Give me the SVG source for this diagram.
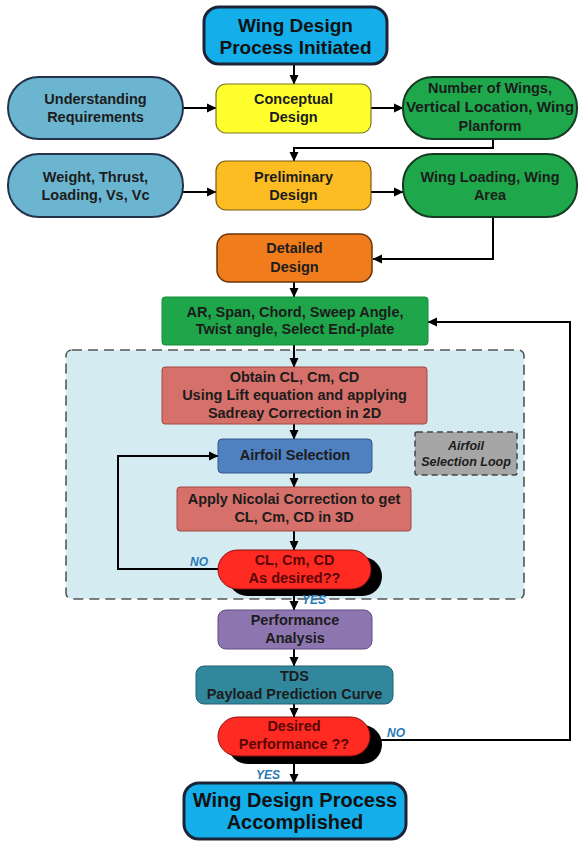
<svg xmlns="http://www.w3.org/2000/svg" width="579" height="842" viewBox="0 0 579 842">
<defs>
<marker id="ah" markerWidth="10" markerHeight="10" refX="9" refY="5" orient="auto" markerUnits="userSpaceOnUse"><path d="M0,0.5 L9.5,5 L0,9.5 z" fill="#000"/></marker>
<style>
text{font-family:"Liberation Sans",Arial,sans-serif;font-weight:bold;text-anchor:middle;fill:#1c1c1c;}
.t{font-size:14.5px;}
.big{font-size:19px;fill:#111;}
.red{fill:#5a0606;}
.lbl{font-size:12px;font-style:italic;fill:#2a78b5;text-anchor:start;}
.c{fill:none;stroke:#000;stroke-width:2;}
.ca{fill:none;stroke:#000;stroke-width:2;marker-end:url(#ah);}
</style>
</defs>
<rect width="579" height="842" fill="#fff"/>

<g id="region">
<rect x="66" y="350" width="458" height="249" rx="6" fill="#d5ebf2" stroke="#555" stroke-width="1.6" stroke-dasharray="10,6"/>
</g>

<g id="connectors">
<line class="ca" x1="294" y1="64" x2="294" y2="84"/>
<line class="ca" x1="183" y1="108" x2="216" y2="108"/>
<line class="ca" x1="371" y1="108" x2="403" y2="108"/>
<polyline class="ca" points="493,139 493,148 294,148 294,161"/>
<line class="ca" x1="183" y1="192" x2="216" y2="192"/>
<line class="ca" x1="371" y1="192" x2="403" y2="192"/>
<polyline class="ca" points="493,217 493,259 373,259"/>
<line class="ca" x1="294" y1="282" x2="294" y2="297"/>
<line class="ca" x1="294" y1="345" x2="294" y2="367"/>
<line class="ca" x1="294" y1="424" x2="294" y2="439"/>
<line class="ca" x1="294" y1="473" x2="294" y2="487"/>
<line class="ca" x1="294" y1="531" x2="294" y2="550"/>
<polyline class="ca" points="218,569 118,569 118,456 218,456"/>
<line class="ca" x1="294" y1="596" x2="294" y2="610"/>
<line class="ca" x1="294" y1="649" x2="294" y2="666"/>
<line class="ca" x1="294" y1="704" x2="294" y2="717"/>
<polyline class="ca" points="380,740 570,740 570,322 428,322"/>
<line class="ca" x1="294" y1="764" x2="294" y2="783"/>
</g>

<g id="n-start">
<rect x="204" y="7" width="183" height="57" rx="15" fill="#14aeea" stroke="#1b2436" stroke-width="3"/>
<text class="big" x="295.5" y="32">Wing Design</text>
<text class="big" x="295.5" y="54">Process Initiated</text>
</g>

<g id="n-understanding">
<rect x="8" y="77" width="175" height="62" rx="31" fill="#6bb5d0" stroke="#23324a" stroke-width="2"/>
<text class="t" x="95.5" y="104">Understanding</text>
<text class="t" x="95.5" y="122">Requirements</text>
</g>

<g id="n-conceptual">
<rect x="216" y="84" width="155" height="49" rx="10" fill="#ffff2e" stroke="#7a7a20" stroke-width="1.2"/>
<text class="t" x="293.5" y="104">Conceptual</text>
<text class="t" x="293.5" y="122">Design</text>
</g>

<g id="n-wings">
<rect x="403" y="77" width="174" height="62" rx="30" fill="#1ea84b" stroke="#163a22" stroke-width="2"/>
<text class="t" x="490" y="93">Number of Wings,</text>
<text class="t" x="490" y="112" textLength="168" lengthAdjust="spacingAndGlyphs">Vertical Location, Wing</text>
<text class="t" x="490" y="131">Planform</text>
</g>

<g id="n-weight">
<rect x="8" y="154" width="175" height="63" rx="31" fill="#6bb5d0" stroke="#23324a" stroke-width="2"/>
<text class="t" x="95.5" y="182">Weight, Thrust,</text>
<text class="t" x="95.5" y="200">Loading, Vs, Vc</text>
</g>

<g id="n-preliminary">
<rect x="216" y="161" width="155" height="49" rx="10" fill="#fbbd22" stroke="#7a5a10" stroke-width="1.2"/>
<text class="t" x="293.5" y="182">Preliminary</text>
<text class="t" x="293.5" y="200">Design</text>
</g>

<g id="n-wingloading">
<rect x="403" y="154" width="174" height="63" rx="30" fill="#1ea84b" stroke="#163a22" stroke-width="2"/>
<text class="t" x="490" y="182">Wing Loading, Wing</text>
<text class="t" x="490" y="200">Area</text>
</g>

<g id="n-detailed">
<rect x="217" y="234" width="155" height="48" rx="12" fill="#f07c1c" stroke="#6a3408" stroke-width="1.5"/>
<text class="t" x="294.5" y="253">Detailed</text>
<text class="t" x="294.5" y="272">Design</text>
</g>

<g id="n-params">
<rect x="162" y="297" width="266" height="48" rx="3" fill="#1fa64a" stroke="#178a3a" stroke-width="1"/>
<text class="t" x="295" y="317">AR, Span, Chord, Sweep Angle,</text>
<text class="t" x="295" y="334">Twist angle, Select End-plate</text>
</g>

<g id="n-obtain">
<rect x="162" y="367" width="265" height="57" rx="3" fill="#d6706a" stroke="#a04a45" stroke-width="1"/>
<text class="t" x="294.5" y="382">Obtain CL, Cm, CD</text>
<text class="t" x="294.5" y="400">Using Lift equation and applying</text>
<text class="t" x="294.5" y="418">Sadreay Correction in 2D</text>
</g>

<g id="n-airfoil">
<rect x="218" y="439" width="154" height="34" rx="4" fill="#4f80bf" stroke="#35598a" stroke-width="1"/>
<text class="t" x="295" y="460">Airfoil Selection</text>
</g>

<g id="n-looplabel">
<rect x="415" y="432" width="102" height="43" rx="2" fill="#a6a6a6" stroke="#444" stroke-width="1.5" stroke-dasharray="6,4"/>
<text x="466" y="450" style="font-size:12.5px;font-style:italic">Airfoil</text>
<text x="466" y="466" style="font-size:12.5px;font-style:italic">Selection Loop</text>
</g>

<g id="n-nicolai">
<rect x="177" y="487" width="234" height="44" rx="3" fill="#d6706a" stroke="#a04a45" stroke-width="1"/>
<text class="t" x="294" y="504">Apply Nicolai Correction to get</text>
<text class="t" x="294" y="522">CL, Cm, CD in 3D</text>
</g>

<g id="n-cldecision">
<rect x="228" y="557" width="154" height="39" rx="19.5" fill="#000"/>
<rect x="218" y="550" width="153" height="39" rx="19.5" fill="#ff2a22" stroke="#8a1010" stroke-width="1"/>
<text class="t red" x="294.5" y="565">CL, Cm, CD</text>
<text class="t red" x="294.5" y="583">As desired??</text>
</g>

<g id="n-performance">
<rect x="218" y="610" width="154" height="39" rx="8" fill="#8d76b0" stroke="#5e4a80" stroke-width="1"/>
<text class="t" x="295" y="625">Performance</text>
<text class="t" x="295" y="643">Analysis</text>
</g>

<g id="n-tds">
<rect x="196" y="666" width="197" height="38" rx="8" fill="#31879c" stroke="#23606e" stroke-width="1"/>
<text class="t" x="294.5" y="681">TDS</text>
<text class="t" x="294.5" y="699">Payload Prediction Curve</text>
</g>

<g id="n-perfdecision">
<rect x="228" y="725" width="154" height="39" rx="19.5" fill="#000"/>
<rect x="218" y="717" width="152" height="39" rx="19.5" fill="#ff2a22" stroke="#8a1010" stroke-width="1"/>
<text class="t red" x="294" y="731">Desired</text>
<text class="t red" x="294" y="749">Performance ??</text>
</g>

<g id="n-end">
<rect x="184" y="783" width="222" height="56" rx="15" fill="#14aeea" stroke="#1b2436" stroke-width="3"/>
<text class="big" x="295" y="807" style="font-size:20px">Wing Design Process</text>
<text class="big" x="295" y="829" style="font-size:20px">Accomplished</text>
</g>

<g id="labels">
<text class="lbl" x="190" y="566">NO</text>
<text class="lbl" x="302" y="604">YES</text>
<text class="lbl" x="387" y="737">NO</text>
<text class="lbl" x="256" y="779">YES</text>
</g>
</svg>
